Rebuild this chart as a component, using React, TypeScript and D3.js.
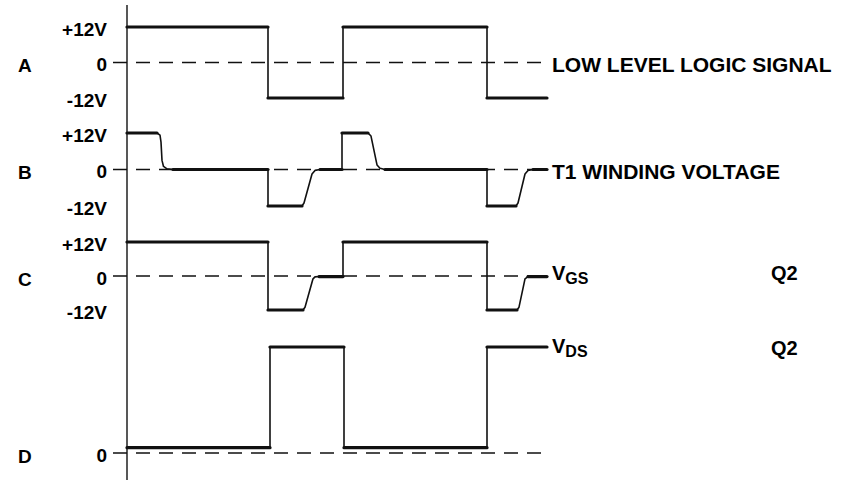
import React, { useEffect, useRef } from "react";
import * as d3 from "d3";

// time axis (arbitrary units, origin at the vertical axis)
const timeDomain = [0, 420];

// waveforms as [time, level] pairs
const signalA = [
  [0, 12], [141, 12], [141, -12], [216, -12], [216, 12], [360, 12], [360, -12], [420, -12],
];
const signalB = [
  [0, 12], [30, 12], [33, 11.3], [34, 9], [35, 3], [36.5, 1], [40, 0.2], [46, 0],
  [141, 0], [141, -12], [175, -12], [177, -11], [185, -1.5], [188, -0.3], [193, 0],
  [215, 0], [215, 12], [241, 12], [244, 11], [250, 1.5], [253, 0.4], [258, 0],
  [360, 0], [360, -12], [389, -12], [391, -11], [398, -1.5], [401, -0.3], [406, 0], [420, 0],
];
const signalC = [
  [0, 12], [141, 12], [141, -12], [176, -12], [178, -11], [186, -1], [188, -0.3], [192, -0.2],
  [216, -0.2], [216, 12], [360, 12], [360, -12], [390, -12], [392, -11], [398, -1],
  [401, -0.2], [420, -0.2],
];
const signalD = [
  [0, 0.05], [143, 0.05], [143, 1], [217, 1], [217, 0.05], [360, 0.05], [360, 1], [420, 1],
];

const panelLetters = ["A", "B", "C", "D"];
const voltTicks = [12, 0, -12];
const voltTickLabels = ["+12V", "0", "-12V"];
const signalNames = ["LOW LEVEL LOGIC SIGNAL", "T1 WINDING VOLTAGE"];

const FONT = "'Liberation Sans', Arial, Helvetica, sans-serif";

const App = () => {
  const ref = useRef<SVGSVGElement>(null);

  useEffect(() => {
    const svg = d3.select(ref.current);
    svg.selectAll("*").remove();

    const x = d3.scaleLinear().domain(timeDomain).range([127, 547]);

    const panels = [
      { data: signalA, y: d3.scaleLinear().domain([-12, 12]).range([98, 27]), ticks: true },
      { data: signalB, y: d3.scaleLinear().domain([-12, 12]).range([206, 133]), ticks: true },
      { data: signalC, y: d3.scaleLinear().domain([-12, 12]).range([310, 242]), ticks: true },
      { data: signalD, y: d3.scaleLinear().domain([0, 1]).range([453, 347]), ticks: false },
    ];

    // vertical axis
    svg
      .append("line")
      .attr("x1", x(0))
      .attr("x2", x(0))
      .attr("y1", 5)
      .attr("y2", 480)
      .attr("stroke", "#111")
      .attr("stroke-width", 1.4);

    panels.forEach((p, i) => {
      const g = svg.append("g");
      const zero = p.y(0);

      // dashed zero reference
      g.append("line")
        .attr("x1", 113)
        .attr("x2", x(timeDomain[1]) + 3)
        .attr("y1", zero)
        .attr("y2", zero)
        .attr("stroke", "#111")
        .attr("stroke-width", 1.4)
        .attr("stroke-dasharray", "14 9");

      // panel letter
      g.append("text")
        .attr("x", 18)
        .attr("y", zero + 3)
        .attr("dominant-baseline", "central")
        .style("font", `bold 19px ${FONT}`)
        .text(panelLetters[i]);

      // tick labels
      const ticks = p.ticks ? voltTicks : [0];
      ticks.forEach((v) => {
        g.append("text")
          .attr("x", 107)
          .attr("y", p.y(v) + 2)
          .attr("text-anchor", "end")
          .attr("dominant-baseline", "central")
          .style("font", `bold 19px ${FONT}`)
          .text(voltTickLabels[voltTicks.indexOf(v)]);
      });

      // waveform (thin) and flat portions (thick)
      const line = d3
        .line<number[]>()
        .x((d) => x(d[0]))
        .y((d) => p.y(d[1]));

      g.append("path")
        .attr("d", line(p.data as number[][]))
        .attr("fill", "none")
        .attr("stroke", "#111")
        .attr("stroke-width", 1.6)
        .attr("stroke-linejoin", "round");

      const flats: number[][][] = [];
      for (let k = 0; k < p.data.length - 1; k++) {
        const a = p.data[k];
        const b = p.data[k + 1];
        if (a[1] === b[1] && a[0] !== b[0]) flats.push([a, b]);
      }
      g.selectAll(".flat")
        .data(flats)
        .join("path")
        .attr("d", (d) => line(d))
        .attr("fill", "none")
        .attr("stroke", "#111")
        .attr("stroke-width", 3.2)
        .attr("stroke-linecap", "round");
    });

    // right-hand labels
    const textX = 552;
    [0, 1].forEach((i) => {
      svg
        .append("text")
        .attr("x", textX)
        .attr("y", panels[i].y(0) + 2)
        .attr("dominant-baseline", "central")
        .style("font", `bold 21px ${FONT}`)
        .text(signalNames[i]);
    });

    const sub = (yPos: number, main: string, s: string) => {
      const t = svg
        .append("text")
        .attr("x", textX)
        .attr("y", yPos)
        .attr("dominant-baseline", "central")
        .style("font", `bold 20px ${FONT}`);
      t.append("tspan").text(main);
      t.append("tspan").attr("dy", 5).style("font-size", "16px").text(s);
    };
    sub(panels[2].y(0) - 3, "V", "GS");
    sub(panels[3].y(1) - 1, "V", "DS");

    [panels[2].y(0) - 3, panels[3].y(1) + 1].forEach((yy) => {
      svg
        .append("text")
        .attr("x", 771)
        .attr("y", yy)
        .attr("dominant-baseline", "central")
        .style("font", `bold 20px ${FONT}`)
        .text("Q2");
    });
  }, []);

  return (
    <svg
      ref={ref}
      width={851}
      height={480}
      style={{ position: "absolute", left: 0, top: 0, background: "#fff" }}
    />
  );
};

export default App;
